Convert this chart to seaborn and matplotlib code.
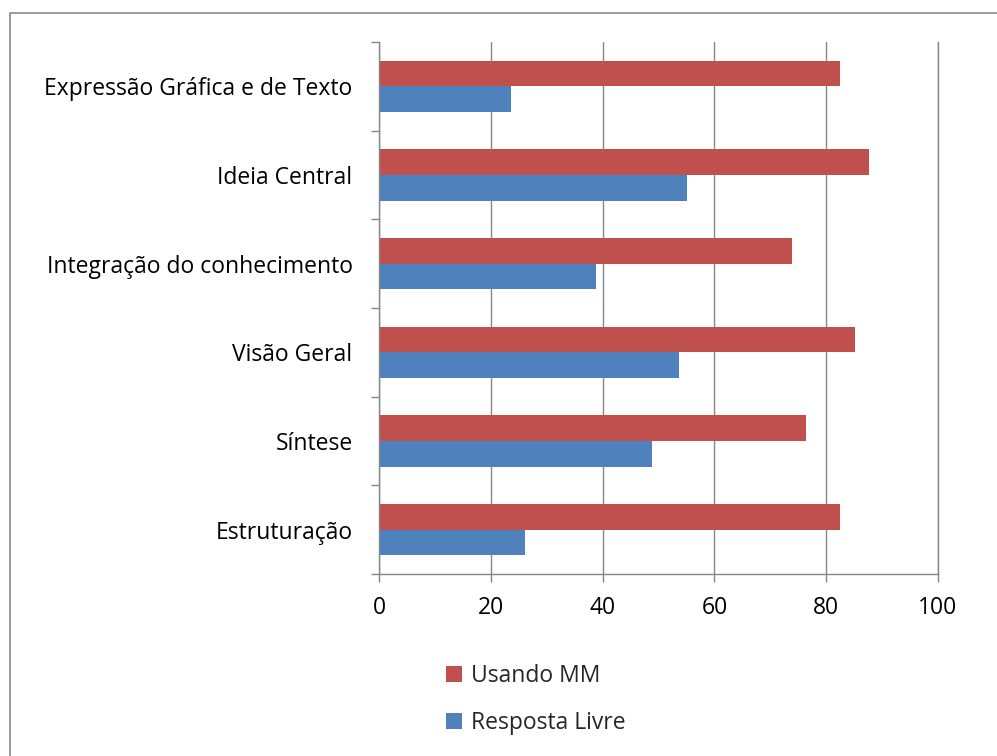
import matplotlib
matplotlib.use("Agg")
import matplotlib.pyplot as plt
import seaborn as sns
import pandas as pd
from matplotlib.patches import Rectangle

categories = [
    "Expressão Gráfica e de Texto",
    "Ideia Central",
    "Integração do conhecimento",
    "Visão Geral",
    "Síntese",
    "Estruturação",
]
usando_mm = [82.5, 87.6, 73.8, 85.1, 76.4, 82.5]
resposta_livre = [23.6, 55.1, 38.8, 53.7, 48.9, 26.2]
series_names = ["Usando MM", "Resposta Livre"]
x_ticks = [0, 20, 40, 60, 80, 100]

colors = ["#C0504D", "#4F81BD"]
grid_color = "#868686"

df = pd.DataFrame({
    "Categoria": categories * 2,
    "Valor": usando_mm + resposta_livre,
    "Série": [series_names[0]] * len(categories) + [series_names[1]] * len(categories),
})

sns.set_theme(style="white")
plt.rcParams["font.family"] = ["Open Sans", "DejaVu Sans"]
FS = 16.5

fig = plt.figure(figsize=(9.97, 7.56), dpi=100)
ax = fig.add_axes([379 / 997, 1 - 574 / 756, (938 - 379) / 997, (574 - 42) / 756])

sns.barplot(data=df, y="Categoria", x="Valor", hue="Série", hue_order=series_names,
            order=categories, orient="h", palette=colors, width=0.58,
            saturation=1, linewidth=0, ax=ax)

ax.set_xlim(0, 100)
ax.set_ylim(len(categories) - 0.5, -0.5)
ax.set_xticks(x_ticks)
ax.set_xticklabels([str(t) for t in x_ticks])
ax.set_xlabel("")
ax.set_ylabel("")
ax.xaxis.grid(True, color=grid_color, linewidth=1.0)
ax.yaxis.grid(False)
ax.set_axisbelow(True)

ax.spines["top"].set_visible(False)
for s in ["left", "bottom", "right"]:
    ax.spines[s].set_color(grid_color)
    ax.spines[s].set_linewidth(1.0)

ax.set_yticks([i - 0.5 for i in range(len(categories) + 1)], minor=True)
ax.tick_params(axis="y", which="major", length=0, pad=19, labelsize=FS, labelcolor="black")
ax.tick_params(axis="y", which="minor", length=6, width=1.0, color=grid_color, left=True, right=False)
ax.tick_params(axis="x", which="major", length=6, width=1.0, color=grid_color, bottom=True,
               pad=10, labelsize=FS, labelcolor="black")

sns.move_legend(ax, loc="upper left", bbox_to_anchor=(446 / 997, 1 - 664 / 756),
                bbox_transform=fig.transFigure, frameon=False, title=None,
                fontsize=FS, handlelength=0.7, handleheight=0.7, handletextpad=0.4,
                labelspacing=1.0, borderaxespad=0, borderpad=0)

fig.patches.append(Rectangle((10 / 997, -0.1), 1.2, 1 - 13 / 756 + 0.1,
                             transform=fig.transFigure, fill=False,
                             edgecolor="#8a8a8a", linewidth=1.2))

fig.savefig("out.png", dpi=100, facecolor="white")
